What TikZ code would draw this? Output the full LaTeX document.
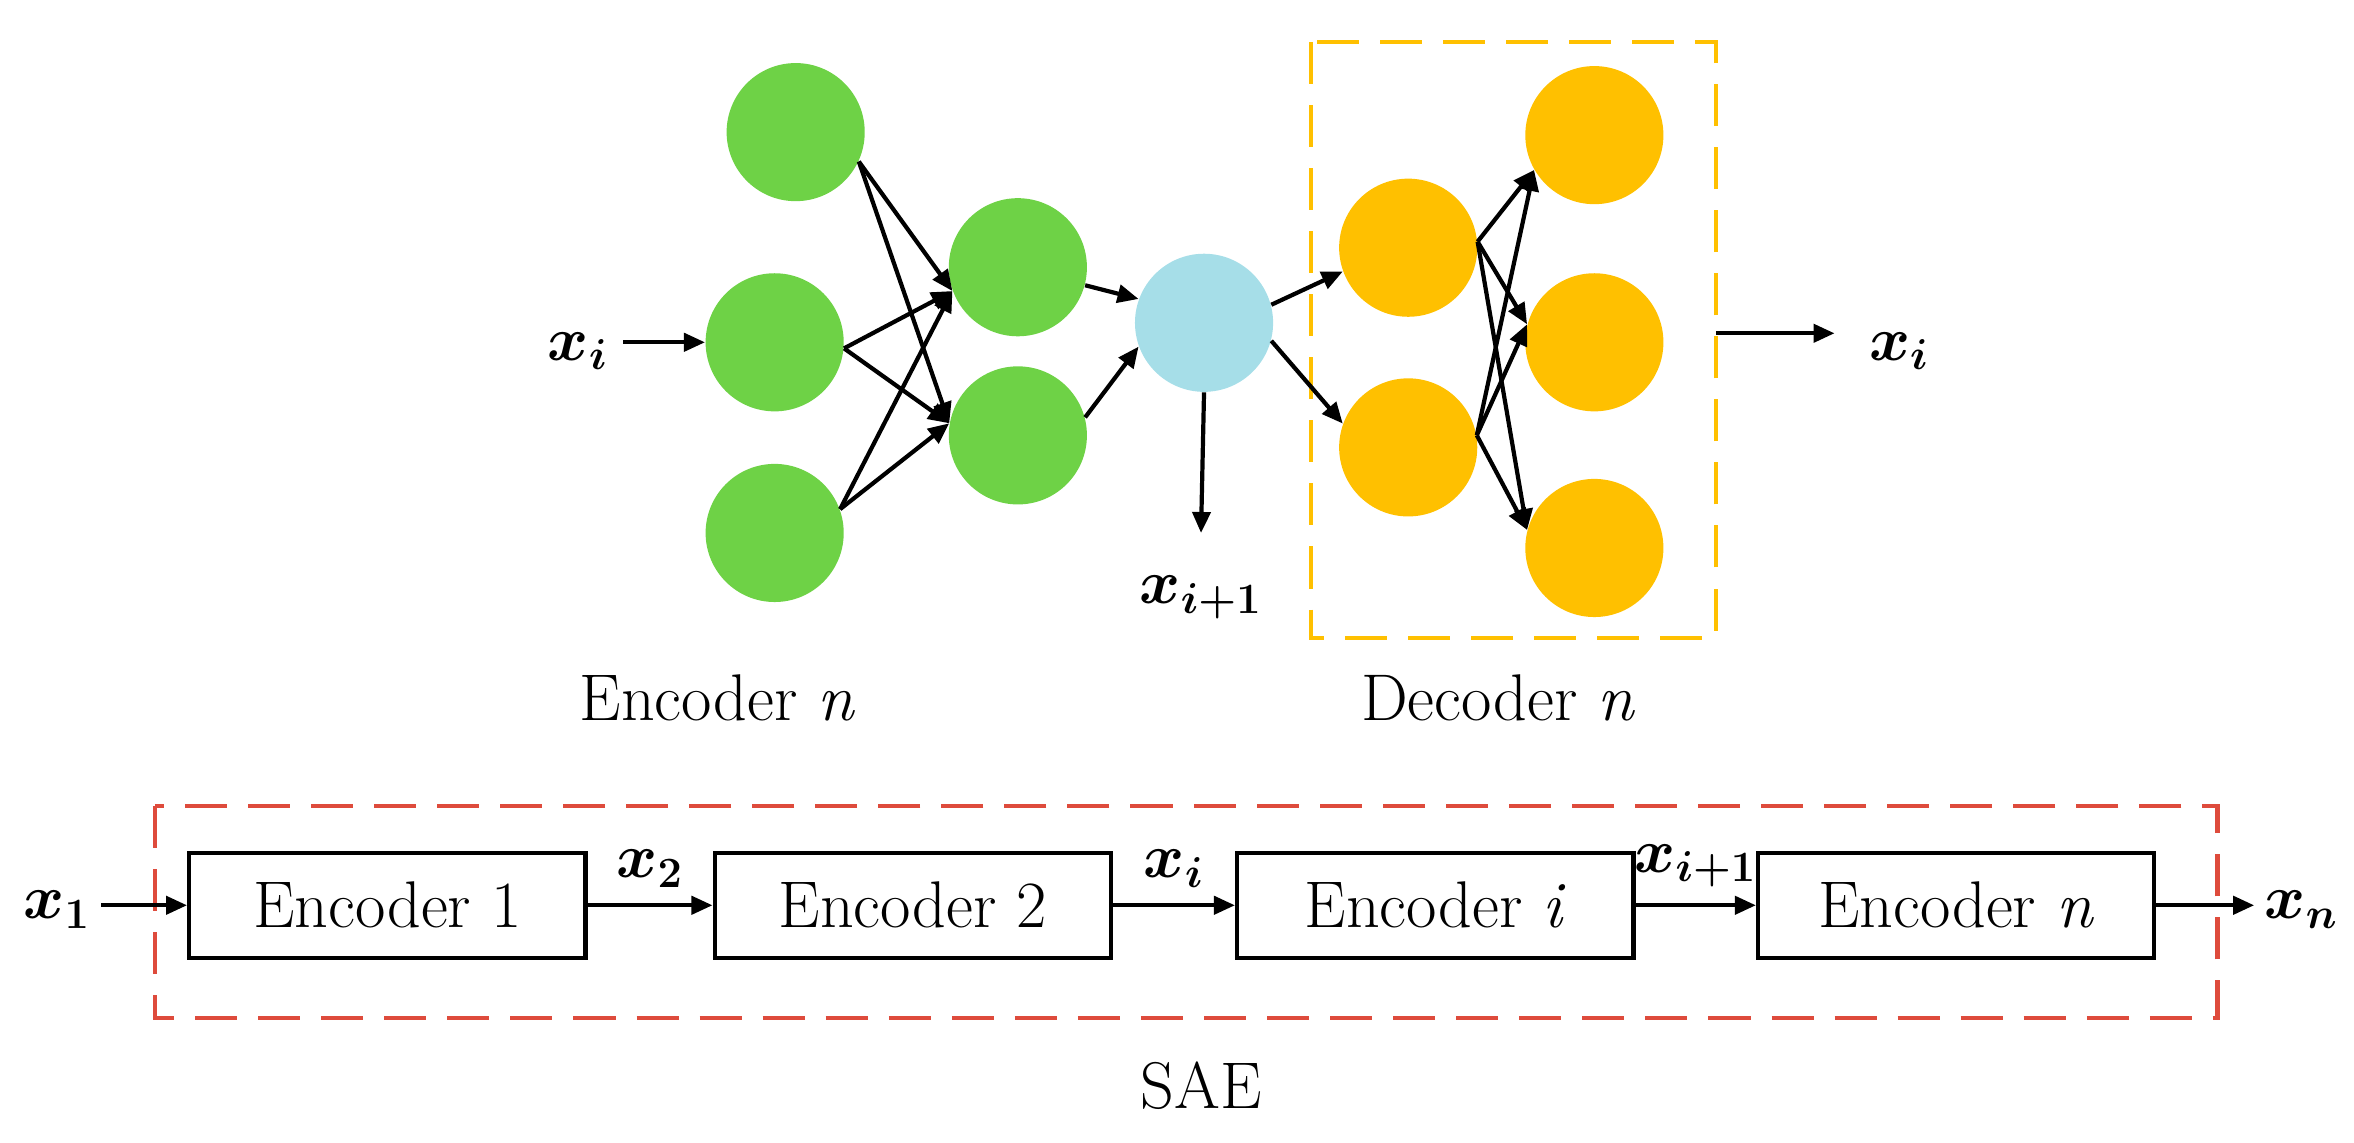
\documentclass[tikz,border=0pt]{standalone}
\usepackage{bm}
\usetikzlibrary{arrows.meta}
\begin{document}
\begin{tikzpicture}[x=0.5pt,y=-0.5pt,
 neu/.style={circle,minimum size=46pt,inner sep=0pt},
 g/.style={neu,fill={rgb,255:red,110;green,210;blue,70}},
 o/.style={neu,fill={rgb,255:red,255;green,192;blue,0}},
 b/.style={neu,fill={rgb,255:red,166;green,222;blue,232}},
 ar/.style={line width=1.4pt,-{Triangle[length=7pt,width=6pt]}},
 box/.style={draw,line width=1.4pt,minimum width=132pt,minimum height=35pt,font=\fontsize{22}{26}\selectfont},
 lab/.style={font=\fontsize{22}{26}\selectfont},
 v/.style={font=\fontsize{20}{22}\selectfont}]
\useasboundingbox (0,0) rectangle (1568,761);
\node[g] (a1) at (530,88) {};
\node[g] (a2) at (516,228) {};
\node[g] (a3) at (516,355) {};
\node[g] (h1) at (678,178) {};
\node[g] (h2) at (678,290) {};
\node[b] (c) at (802,215) {};
\node[o] (d1) at (938,165) {};
\node[o] (d2) at (938,298) {};
\node[o] (e1) at (1062,90) {};
\node[o] (e2) at (1062,228) {};
\node[o] (e3) at (1062,365) {};
\draw[dashed,dash pattern=on 14pt off 7pt,line width=1.4pt,draw={rgb,255:red,255;green,192;blue,0}] (873,28) rectangle (1143,425);
\foreach \s/\a in {a1/-25,a2/-5,a3/20}{
 \draw[ar] (\s.\a) -- (h1.200);
 \draw[ar] (\s.\a) -- (h2.170);}
\draw[ar] (h1.-15) -- (c.160);
\draw[ar] (h2.15) -- (c.200);
\draw[ar] (c.15) -- (d1.200);
\draw[ar] (c.-15) -- (d2.160);
\foreach \s/\a in {d1/5,d2/10}{
 \draw[ar] (\s.\a) -- (e1.210);
 \draw[ar] (\s.\a) -- (e2.165);
 \draw[ar] (\s.\a) -- (e3.165);}
\node[v] (xin) at (385,234) {$\bm{x_i}$};
\coordinate (s0) at (415,228);
\draw[ar] (s0) -- (a2.west);
\coordinate (o0) at (1143,222);
\coordinate (o1) at (1222,222);
\node[v] (xout) at (1265,234) {$\bm{x_i}$};
\draw[ar] (o0) -- (o1);
\node[v] (xi1) at (800,398) {$\bm{x_{i+1}}$};
\coordinate (c1) at (800,355);
\draw[ar] (c.south) -- (c1);
\node[lab] at (478,465) {Encoder \textit{n}};
\node[lab] at (998,465) {Decoder \textit{n}};
\draw[dashed,dash pattern=on 14pt off 7pt,line width=1.4pt,draw={rgb,255:red,222;green,75;blue,60}] (103,537) rectangle (1477,678);
\node[box] (E1) at (258,603) {Encoder 1};
\node[box] (E2) at (608,603) {Encoder 2};
\node[box] (Ei) at (956,603) {Encoder \textit{i}};
\node[box] (En) at (1303,603) {Encoder \textit{n}};
\node[v] (x1) at (38,606) {$\bm{x_1}$};
\draw[ar] (x1.east |- E1.west) -- (E1.west);
\draw[ar] (E1.east) -- node[v,above=2pt] {$\bm{x_2}$} (E2.west);
\draw[ar] (E2.east) -- node[v,above=2pt] {$\bm{x_i}$} (Ei.west);
\draw[ar] (Ei.east) -- node[v,above=2pt] {$\bm{x_{i+1}}$} (En.west);
\node[v] (xn) at (1533,606) {$\bm{x_n}$};
\draw[ar] (En.east) -- (xn.west |- En.east);
\node[lab] at (800,723) {SAE};
\end{tikzpicture}
\end{document}
